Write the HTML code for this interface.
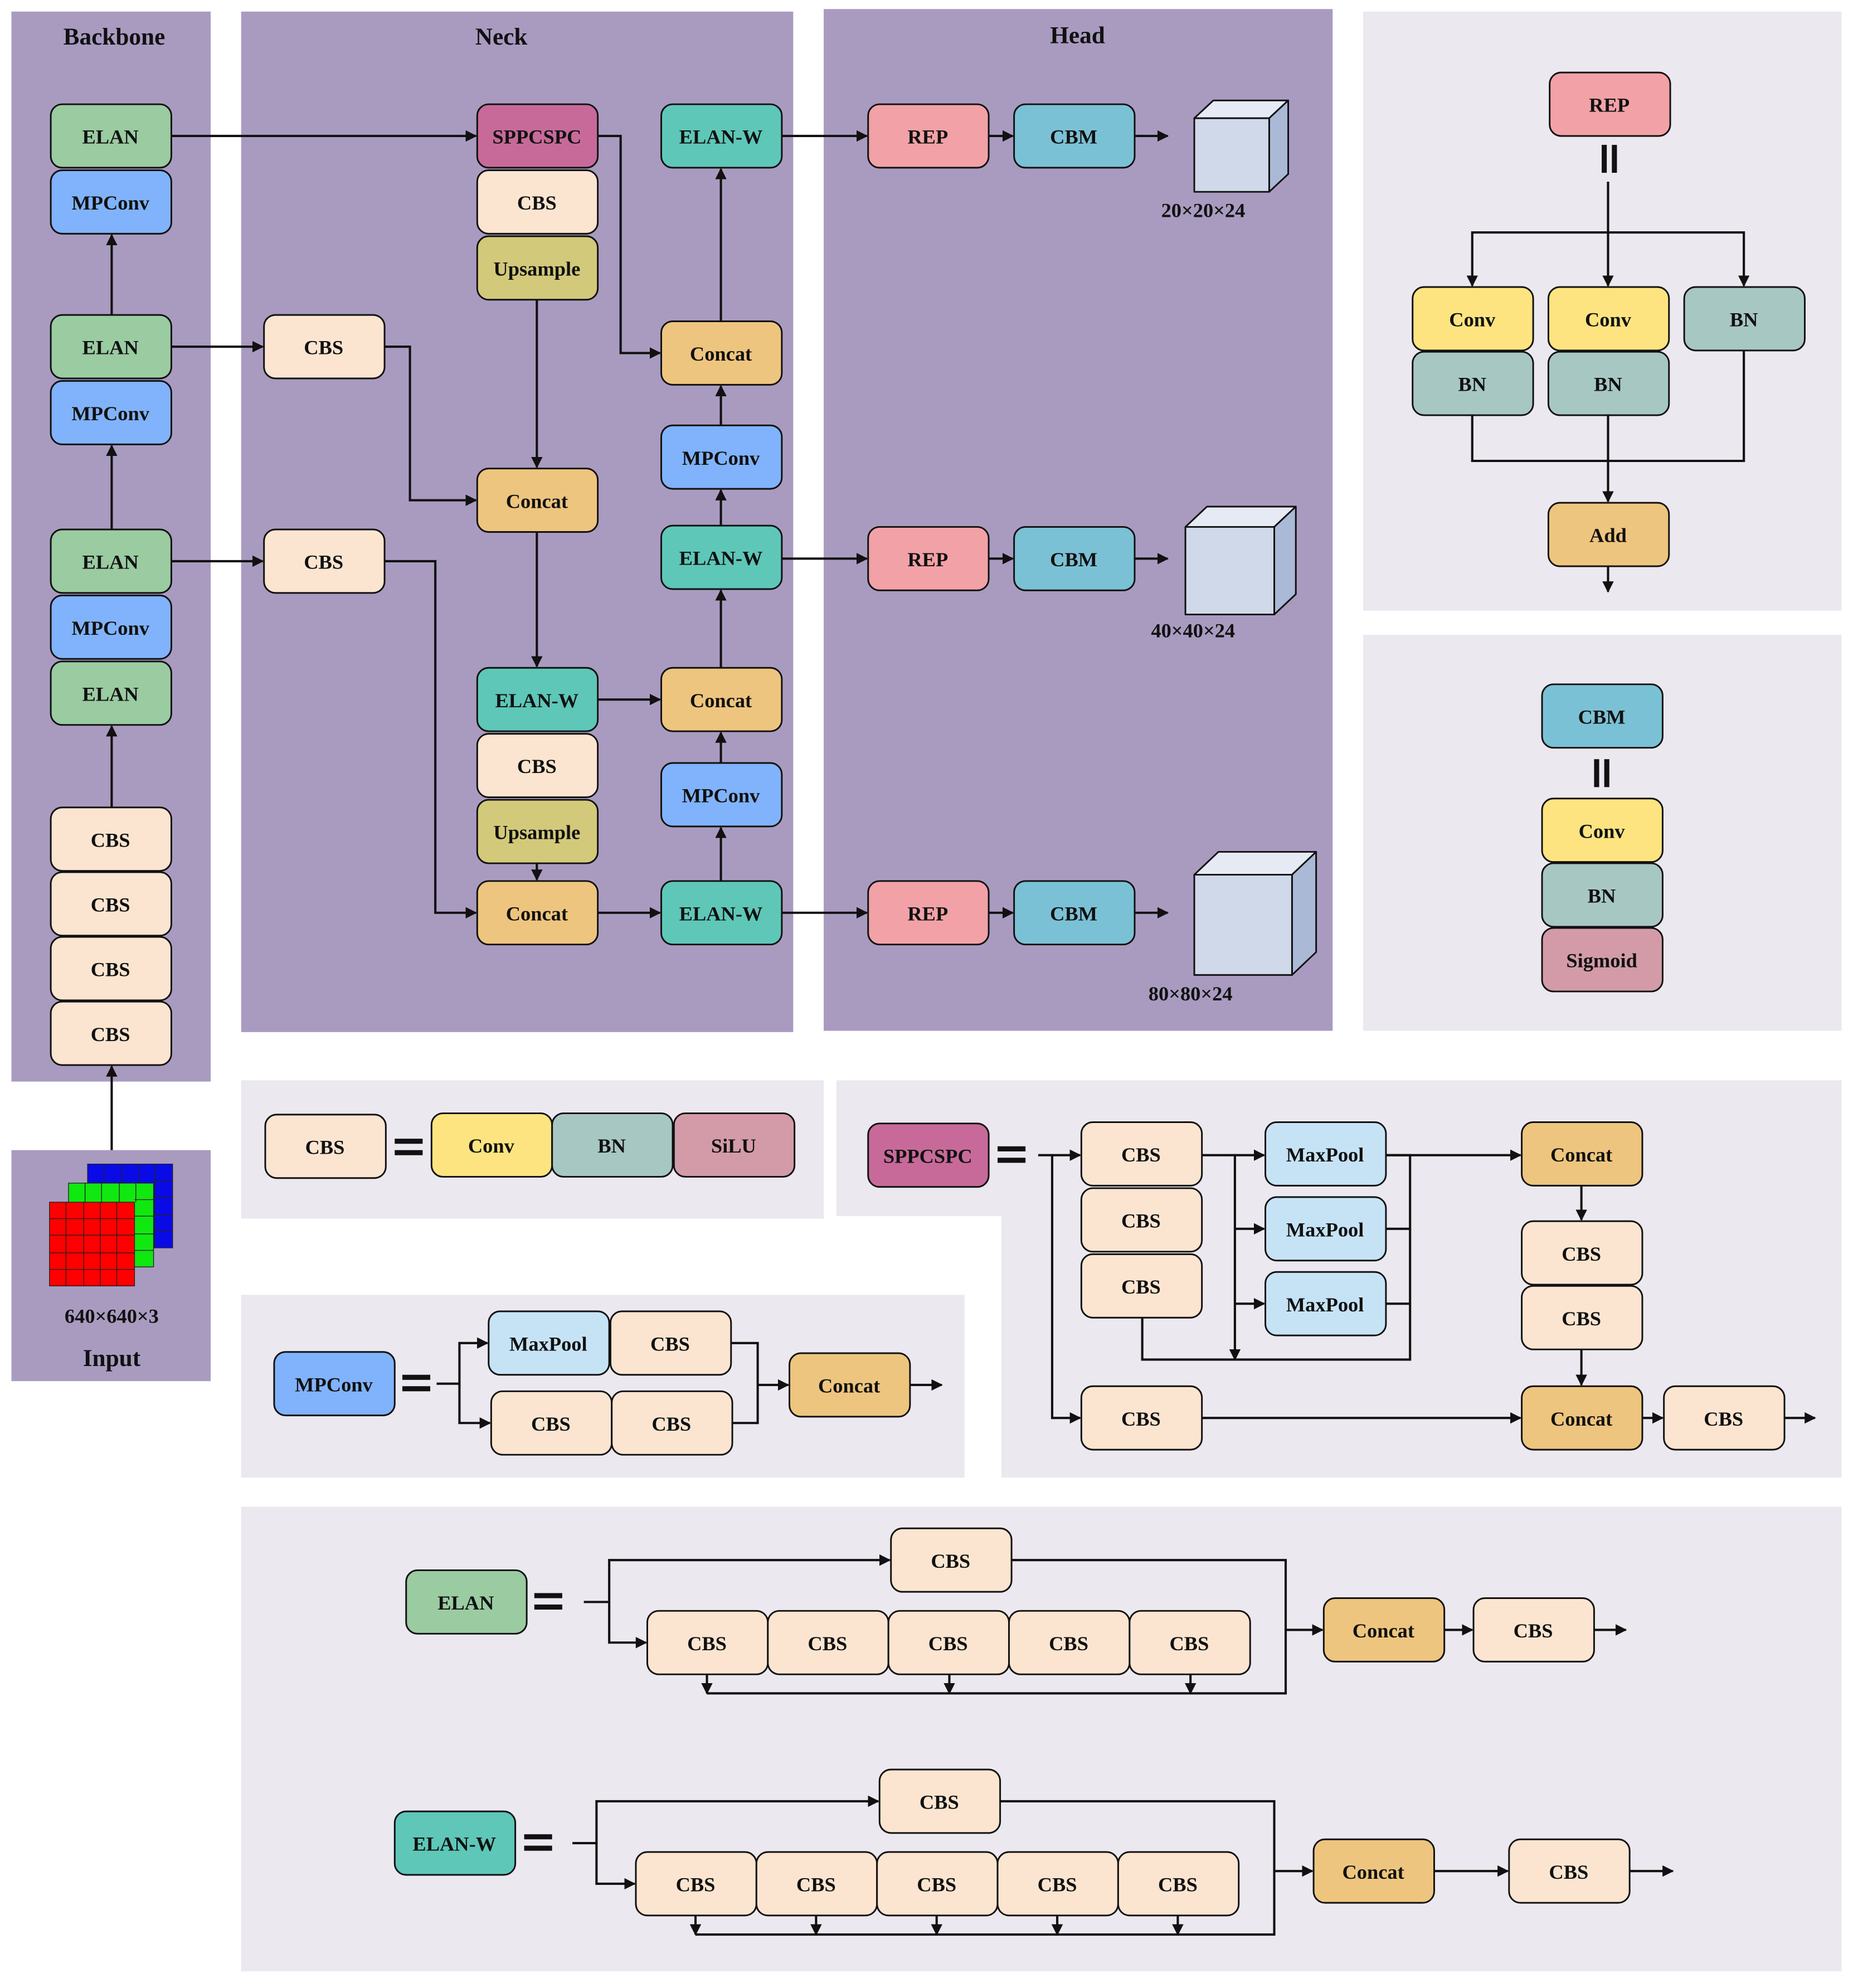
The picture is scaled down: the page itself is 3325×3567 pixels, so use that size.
<!DOCTYPE html>
<html><head><meta charset="utf-8"><style>
html,body{margin:0;padding:0;background:#fff}
svg{display:block}
text{font-family:"Liberation Serif",serif;font-weight:bold;fill:#111;text-anchor:middle}
.t{font-size:16px}
.h{font-size:19px}
.b{stroke:#111;stroke-width:1.3}
.l{stroke:#111;stroke-width:1.8;fill:none}
</style></head><body>
<svg width="3325" height="3567" viewBox="0 0 1460 1566" xmlns="http://www.w3.org/2000/svg">
<defs><marker id="a" viewBox="0 0 10 10" refX="9" refY="5" markerWidth="5" markerHeight="5" orient="auto"><path d="M0,0L10,5L0,10z" fill="#111"/></marker></defs>
<rect width="1460" height="1566" fill="#fff"/>
<!-- panels -->
<g fill="#a99bc0">
<rect x="9" y="9" width="157" height="843"/>
<rect x="9" y="906" width="157" height="182"/>
<rect x="190" y="9" width="435" height="804"/>
<rect x="649" y="7" width="401" height="805"/>
</g>
<g fill="#ebe8ef">
<rect x="1074" y="9" width="377" height="472"/>
<rect x="1074" y="500" width="377" height="312"/>
<rect x="190" y="851" width="459" height="109"/>
<polygon points="659,851 1451,851 1451,1164 789,1164 789,958 659,958"/>
<rect x="190" y="1020" width="570" height="144"/>
<rect x="190" y="1187" width="1261" height="366"/>
</g>
<text class="h" x="90" y="35">Backbone</text>
<text class="h" x="395" y="35">Neck</text>
<text class="h" x="849" y="34">Head</text>

<!-- input image -->
<g stroke="#222" stroke-width="0.6">
<rect x="69" y="917" width="67" height="66" fill="#0a0ae6"/>
<rect x="54" y="932" width="67" height="66" fill="#10e810"/>
<rect x="39" y="947" width="67" height="66" fill="#f00"/>
<path d="M82,917V932M96,917V932M109,917V932M122,917V983M121,930H136M121,943H136M121,957H136M121,970H136" fill="none"/>
<path d="M67,932V947M80,932V947M94,932V947M107,932V947M106,945H121M106,958H121M106,972H121M106,985H121" fill="none"/>
<path d="M52,947V1013M66,947V1013M79,947V1013M92,947V1013M39,960H106M39,973H106M39,987H106M39,1000H106" fill="none"/>
</g>
<text class="t" x="88" y="1042">640×640×3</text>
<text class="h" x="88" y="1076">Input</text>

<!-- connectors -->
<g class="l" marker-end="url(#a)">
<path d="M88,906V840"/><path d="M88,636V572"/><path d="M88,417V351"/><path d="M88,248V185"/>
<path d="M135,107H375"/><path d="M135,273H207"/><path d="M135,442H207"/>
<path d="M303,273H323V394H375"/><path d="M303,442H343V719H375"/>
<path d="M471,107H489V278H520"/>
<path d="M423,236V368"/><path d="M423,419V525"/><path d="M471,551H520"/><path d="M423,680V693"/><path d="M471,719H520"/>
<path d="M568,694V652"/><path d="M568,601V577"/><path d="M568,526V465"/><path d="M568,414V386"/><path d="M568,335V304"/><path d="M568,253V133"/>
<path d="M616,107H683"/><path d="M616,440H683"/><path d="M616,719H683"/>
<path d="M779,107H798"/><path d="M779,440H798"/><path d="M779,719H798"/>
<path d="M894,107H920"/><path d="M894,440H920"/><path d="M894,719H920"/>
<!-- REP -->
<path d="M1267,143V183H1160V225"/><path d="M1267,183V225"/><path d="M1267,183H1374V225"/>
<path d="M1267,327V395"/><path d="M1267,446V466"/>
<!-- SPPCSPC -->
<path d="M818,910H829V1117H851"/><path d="M829,910H851"/>
<path d="M947,910H973V1071"/><path d="M973,910H996"/><path d="M973,968H996"/><path d="M973,1027H996"/>
<path d="M1092,910H1198"/><path d="M1246,934V961"/><path d="M1246,1063V1091"/>
<path d="M947,1117H1198"/><path d="M1294,1117H1310"/><path d="M1406,1117H1430"/>
<!-- MPConv -->
<path d="M344,1090H362V1058H384"/><path d="M362,1090V1121H386"/>
<path d="M597,1091H621"/><path d="M717,1091H742"/>
<!-- ELAN -->
<path d="M460,1262H480V1229H701"/><path d="M480,1262V1294H509"/>
<path d="M1013,1284H1042"/><path d="M1138,1284H1160"/><path d="M1256,1284H1281"/>
<path d="M557,1319V1334"/><path d="M748,1319V1334"/><path d="M938,1319V1334"/>
<!-- ELAN-W -->
<path d="M451,1452H470V1419H692"/><path d="M470,1452V1484H500"/>
<path d="M1004,1474H1034"/><path d="M1130,1474H1188"/><path d="M1284,1474H1318"/>
<path d="M548,1509V1524"/><path d="M643,1509V1524"/><path d="M738,1509V1524"/><path d="M833,1509V1524"/><path d="M928,1509V1524"/>
</g>
<g class="l">
<path d="M1160,327V363H1374V276"/>
<path d="M900,1038V1071H1111V910H1092M1092,968H1111M1092,1027H1111"/>
<path d="M576,1058H597V1121H577"/>
<path d="M797,1229H1013V1334H557"/>
<path d="M788,1419H1004V1524H548"/>
</g>
<!-- equals / parallel -->
<g fill="#111">
<rect x="1262" y="114" width="4" height="22"/><rect x="1270" y="114" width="4" height="22"/>
<rect x="1256" y="598" width="4" height="22"/><rect x="1264" y="598" width="4" height="22"/>
<rect x="311" y="897" width="22" height="4"/><rect x="311" y="906" width="22" height="4"/>
<rect x="786" y="903" width="22" height="4"/><rect x="786" y="912" width="22" height="4"/>
<rect x="317" y="1083" width="22" height="4"/><rect x="317" y="1092" width="22" height="4"/>
<rect x="421" y="1255" width="22" height="4"/><rect x="421" y="1264" width="22" height="4"/>
<rect x="413" y="1445" width="22" height="4"/><rect x="413" y="1454" width="22" height="4"/>
</g>

<!-- cubes -->
<g class="b" stroke-linejoin="round">
<polygon points="941,93 956,79 1015,79 1000,93" fill="#e6eaf4"/><polygon points="1000,93 1015,79 1015,137 1000,151" fill="#a9b9d6"/><rect x="941" y="93" width="59" height="58" fill="#d0d9ea"/>
<polygon points="934,415 951,399 1021,399 1004,415" fill="#e6eaf4"/><polygon points="1004,415 1021,399 1021,468 1004,484" fill="#a9b9d6"/><rect x="934" y="415" width="70" height="69" fill="#d0d9ea"/>
<polygon points="941,689 960,671 1037,671 1018,689" fill="#e6eaf4"/><polygon points="1018,689 1037,671 1037,750 1018,768" fill="#a9b9d6"/><rect x="941" y="689" width="77" height="79" fill="#d0d9ea"/>
</g>
<text class="t" x="948" y="171">20×20×24</text>
<text class="t" x="940" y="502">40×40×24</text>
<text class="t" x="938" y="788">80×80×24</text>

<!-- boxes -->
<g class="b">
<!-- backbone -->
<rect x="40" y="82" width="95" height="50" rx="9" fill="#9acba1"/>
<rect x="40" y="134" width="95" height="50" rx="9" fill="#80b3fb"/>
<rect x="40" y="248" width="95" height="50" rx="9" fill="#9acba1"/>
<rect x="40" y="300" width="95" height="50" rx="9" fill="#80b3fb"/>
<rect x="40" y="417" width="95" height="50" rx="9" fill="#9acba1"/>
<rect x="40" y="469" width="95" height="50" rx="9" fill="#80b3fb"/>
<rect x="40" y="521" width="95" height="50" rx="9" fill="#9acba1"/>
<rect x="40" y="636" width="95" height="50" rx="9" fill="#fbe5d0"/>
<rect x="40" y="687" width="95" height="50" rx="9" fill="#fbe5d0"/>
<rect x="40" y="738" width="95" height="50" rx="9" fill="#fbe5d0"/>
<rect x="40" y="789" width="95" height="50" rx="9" fill="#fbe5d0"/>
<!-- neck -->
<rect x="208" y="248" width="95" height="50" rx="9" fill="#fbe5d0"/>
<rect x="208" y="417" width="95" height="50" rx="9" fill="#fbe5d0"/>
<rect x="376" y="82" width="95" height="50" rx="9" fill="#c76a9a"/>
<rect x="376" y="134" width="95" height="50" rx="9" fill="#fbe5d0"/>
<rect x="376" y="186" width="95" height="50" rx="9" fill="#d3c97a"/>
<rect x="376" y="369" width="95" height="50" rx="9" fill="#eec57e"/>
<rect x="376" y="526" width="95" height="50" rx="9" fill="#5ec7b8"/>
<rect x="376" y="578" width="95" height="50" rx="9" fill="#fbe5d0"/>
<rect x="376" y="630" width="95" height="50" rx="9" fill="#d3c97a"/>
<rect x="376" y="694" width="95" height="50" rx="9" fill="#eec57e"/>
<rect x="521" y="82" width="95" height="50" rx="9" fill="#5ec7b8"/>
<rect x="521" y="253" width="95" height="50" rx="9" fill="#eec57e"/>
<rect x="521" y="335" width="95" height="50" rx="9" fill="#80b3fb"/>
<rect x="521" y="414" width="95" height="50" rx="9" fill="#5ec7b8"/>
<rect x="521" y="526" width="95" height="50" rx="9" fill="#eec57e"/>
<rect x="521" y="601" width="95" height="50" rx="9" fill="#80b3fb"/>
<rect x="521" y="694" width="95" height="50" rx="9" fill="#5ec7b8"/>
<!-- head -->
<rect x="684" y="82" width="95" height="50" rx="9" fill="#f2a2a6"/>
<rect x="799" y="82" width="95" height="50" rx="9" fill="#7bc1d5"/>
<rect x="684" y="415" width="95" height="50" rx="9" fill="#f2a2a6"/>
<rect x="799" y="415" width="95" height="50" rx="9" fill="#7bc1d5"/>
<rect x="684" y="694" width="95" height="50" rx="9" fill="#f2a2a6"/>
<rect x="799" y="694" width="95" height="50" rx="9" fill="#7bc1d5"/>
<!-- REP panel -->
<rect x="1221" y="57" width="95" height="50" rx="9" fill="#f2a2a6"/>
<rect x="1113" y="226" width="95" height="50" rx="9" fill="#fde480"/>
<rect x="1113" y="277" width="95" height="50" rx="9" fill="#a7c7c3"/>
<rect x="1220" y="226" width="95" height="50" rx="9" fill="#fde480"/>
<rect x="1220" y="277" width="95" height="50" rx="9" fill="#a7c7c3"/>
<rect x="1327" y="226" width="95" height="50" rx="9" fill="#a7c7c3"/>
<rect x="1220" y="396" width="95" height="50" rx="9" fill="#eec57e"/>
<!-- CBM panel -->
<rect x="1215" y="539" width="95" height="50" rx="9" fill="#7bc1d5"/>
<rect x="1215" y="629" width="95" height="50" rx="9" fill="#fde480"/>
<rect x="1215" y="680" width="95" height="50" rx="9" fill="#a7c7c3"/>
<rect x="1215" y="731" width="95" height="50" rx="9" fill="#d39ba8"/>
<!-- CBS panel -->
<rect x="209" y="878" width="95" height="50" rx="9" fill="#fbe5d0"/>
<rect x="340" y="877" width="95" height="50" rx="9" fill="#fde480"/>
<rect x="435" y="877" width="95" height="50" rx="9" fill="#a7c7c3"/>
<rect x="531" y="877" width="95" height="50" rx="9" fill="#d39ba8"/>
<!-- SPPCSPC panel -->
<rect x="684" y="885" width="95" height="50" rx="9" fill="#c76a9a"/>
<rect x="852" y="884" width="95" height="50" rx="9" fill="#fbe5d0"/>
<rect x="852" y="936" width="95" height="50" rx="9" fill="#fbe5d0"/>
<rect x="852" y="988" width="95" height="50" rx="9" fill="#fbe5d0"/>
<rect x="852" y="1092" width="95" height="50" rx="9" fill="#fbe5d0"/>
<rect x="997" y="884" width="95" height="50" rx="9" fill="#c6e3f6"/>
<rect x="997" y="943" width="95" height="50" rx="9" fill="#c6e3f6"/>
<rect x="997" y="1002" width="95" height="50" rx="9" fill="#c6e3f6"/>
<rect x="1199" y="884" width="95" height="50" rx="9" fill="#eec57e"/>
<rect x="1199" y="962" width="95" height="50" rx="9" fill="#fbe5d0"/>
<rect x="1199" y="1013" width="95" height="50" rx="9" fill="#fbe5d0"/>
<rect x="1199" y="1092" width="95" height="50" rx="9" fill="#eec57e"/>
<rect x="1311" y="1092" width="95" height="50" rx="9" fill="#fbe5d0"/>
<!-- MPConv panel -->
<rect x="216" y="1065" width="95" height="50" rx="9" fill="#80b3fb"/>
<rect x="385" y="1033" width="95" height="50" rx="9" fill="#c6e3f6"/>
<rect x="481" y="1033" width="95" height="50" rx="9" fill="#fbe5d0"/>
<rect x="387" y="1096" width="95" height="50" rx="9" fill="#fbe5d0"/>
<rect x="482" y="1096" width="95" height="50" rx="9" fill="#fbe5d0"/>
<rect x="622" y="1066" width="95" height="50" rx="9" fill="#eec57e"/>
<!-- ELAN panel -->
<rect x="320" y="1237" width="95" height="50" rx="9" fill="#9acba1"/>
<rect x="702" y="1204" width="95" height="50" rx="9" fill="#fbe5d0"/>
<rect x="510" y="1269" width="95" height="50" rx="9" fill="#fbe5d0"/>
<rect x="605" y="1269" width="95" height="50" rx="9" fill="#fbe5d0"/>
<rect x="700" y="1269" width="95" height="50" rx="9" fill="#fbe5d0"/>
<rect x="795" y="1269" width="95" height="50" rx="9" fill="#fbe5d0"/>
<rect x="890" y="1269" width="95" height="50" rx="9" fill="#fbe5d0"/>
<rect x="1043" y="1259" width="95" height="50" rx="9" fill="#eec57e"/>
<rect x="1161" y="1259" width="95" height="50" rx="9" fill="#fbe5d0"/>
<!-- ELAN-W panel -->
<rect x="311" y="1427" width="95" height="50" rx="9" fill="#5ec7b8"/>
<rect x="693" y="1394" width="95" height="50" rx="9" fill="#fbe5d0"/>
<rect x="501" y="1459" width="95" height="50" rx="9" fill="#fbe5d0"/>
<rect x="596" y="1459" width="95" height="50" rx="9" fill="#fbe5d0"/>
<rect x="691" y="1459" width="95" height="50" rx="9" fill="#fbe5d0"/>
<rect x="786" y="1459" width="95" height="50" rx="9" fill="#fbe5d0"/>
<rect x="881" y="1459" width="95" height="50" rx="9" fill="#fbe5d0"/>
<rect x="1035" y="1449" width="95" height="50" rx="9" fill="#eec57e"/>
<rect x="1189" y="1449" width="95" height="50" rx="9" fill="#fbe5d0"/>
</g>

<g class="t">
<text x="87" y="113">ELAN</text><text x="87" y="165">MPConv</text>
<text x="87" y="279">ELAN</text><text x="87" y="331">MPConv</text>
<text x="87" y="448">ELAN</text><text x="87" y="500">MPConv</text><text x="87" y="552">ELAN</text>
<text x="87" y="667">CBS</text><text x="87" y="718">CBS</text><text x="87" y="769">CBS</text><text x="87" y="820">CBS</text>
<text x="255" y="279">CBS</text><text x="255" y="448">CBS</text>
<text x="423" y="113">SPPCSPC</text><text x="423" y="165">CBS</text><text x="423" y="217">Upsample</text>
<text x="423" y="400">Concat</text><text x="423" y="557">ELAN-W</text><text x="423" y="609">CBS</text>
<text x="423" y="661">Upsample</text><text x="423" y="725">Concat</text>
<text x="568" y="113">ELAN-W</text><text x="568" y="284">Concat</text><text x="568" y="366">MPConv</text>
<text x="568" y="445">ELAN-W</text><text x="568" y="557">Concat</text><text x="568" y="632">MPConv</text><text x="568" y="725">ELAN-W</text>
<text x="731" y="113">REP</text><text x="846" y="113">CBM</text>
<text x="731" y="446">REP</text><text x="846" y="446">CBM</text>
<text x="731" y="725">REP</text><text x="846" y="725">CBM</text>
<text x="1268" y="88">REP</text>
<text x="1160" y="257">Conv</text><text x="1160" y="308">BN</text>
<text x="1267" y="257">Conv</text><text x="1267" y="308">BN</text>
<text x="1374" y="257">BN</text><text x="1267" y="427">Add</text>
<text x="1262" y="570">CBM</text><text x="1262" y="660">Conv</text><text x="1262" y="711">BN</text><text x="1262" y="762">Sigmoid</text>
<text x="256" y="909">CBS</text><text x="387" y="908">Conv</text><text x="482" y="908">BN</text><text x="578" y="908">SiLU</text>
<text x="731" y="916">SPPCSPC</text>
<text x="899" y="915">CBS</text><text x="899" y="967">CBS</text><text x="899" y="1019">CBS</text><text x="899" y="1123">CBS</text>
<text x="1044" y="915">MaxPool</text><text x="1044" y="974">MaxPool</text><text x="1044" y="1033">MaxPool</text>
<text x="1246" y="915">Concat</text><text x="1246" y="993">CBS</text><text x="1246" y="1044">CBS</text>
<text x="1246" y="1123">Concat</text><text x="1358" y="1123">CBS</text>
<text x="263" y="1096">MPConv</text>
<text x="432" y="1064">MaxPool</text><text x="528" y="1064">CBS</text>
<text x="434" y="1127">CBS</text><text x="529" y="1127">CBS</text>
<text x="669" y="1097">Concat</text>
<text x="367" y="1268">ELAN</text><text x="749" y="1235">CBS</text>
<text x="557" y="1300">CBS</text><text x="652" y="1300">CBS</text><text x="747" y="1300">CBS</text><text x="842" y="1300">CBS</text><text x="937" y="1300">CBS</text>
<text x="1090" y="1290">Concat</text><text x="1208" y="1290">CBS</text>
<text x="358" y="1458">ELAN-W</text><text x="740" y="1425">CBS</text>
<text x="548" y="1490">CBS</text><text x="643" y="1490">CBS</text><text x="738" y="1490">CBS</text><text x="833" y="1490">CBS</text><text x="928" y="1490">CBS</text>
<text x="1082" y="1480">Concat</text><text x="1236" y="1480">CBS</text>
</g>
</svg>
</body></html>
